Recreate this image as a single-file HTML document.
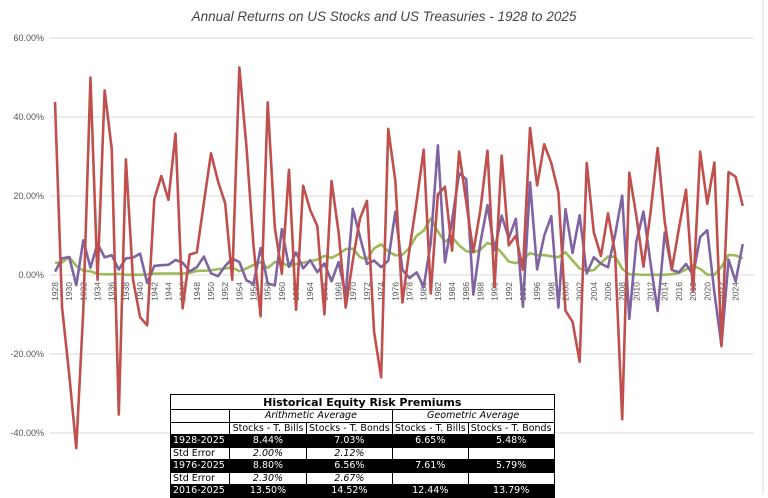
<!DOCTYPE html>
<html><head><meta charset="utf-8">
<style>
body{margin:0;background:#fff;width:768px;height:494px;overflow:hidden;font-family:"Liberation Sans",sans-serif}
#chart{position:absolute;left:0;top:0}
table{position:absolute;left:170px;top:394px;border-collapse:collapse;font-family:"DejaVu Sans","Liberation Sans",sans-serif;font-size:9.5px;table-layout:fixed;background:#fff}
td{border:1px solid #000;padding:0 2px;height:11.5px;line-height:11px;text-align:center;white-space:nowrap;overflow:hidden}
tr.blk td{background:#000;color:#fff}
td.l{text-align:left}
.i{font-style:italic}
</style></head><body>
<svg id="chart" width="768" height="494">
<text x="384" y="21" text-anchor="middle" font-size="13.5" font-style="italic" fill="#444" font-family="Liberation Sans, sans-serif">Annual Returns on US Stocks and US Treasuries - 1928 to 2025</text>
<line x1="763" y1="0" x2="763" y2="494" stroke="#ddd"/>
<g id="grid"></g><g id="xlab"></g><g id="lines"></g>
</svg>
<table>
<colgroup><col style="width:59px"><col style="width:77px"><col style="width:85px"><col style="width:76px"><col style="width:84px"></colgroup>
<tr><td colspan="5" style="font-weight:bold;font-size:11px;height:14px">Historical Equity Risk Premiums</td></tr>
<tr><td></td><td colspan="2" class="i">Arithmetic Average</td><td colspan="2" class="i">Geometric Average</td></tr>
<tr><td></td><td>Stocks - T. Bills</td><td>Stocks - T. Bonds</td><td>Stocks - T. Bills</td><td>Stocks - T. Bonds</td></tr>
<tr class="blk"><td class="l">1928-2025</td><td>8.44%</td><td>7.03%</td><td>6.65%</td><td>5.48%</td></tr>
<tr><td class="l">Std Error</td><td class="i">2.00%</td><td class="i">2.12%</td><td></td><td></td></tr>
<tr class="blk"><td class="l">1976-2025</td><td>8.80%</td><td>6.56%</td><td>7.61%</td><td>5.79%</td></tr>
<tr><td class="l">Std Error</td><td class="i">2.30%</td><td class="i">2.67%</td><td></td><td></td></tr>
<tr class="blk"><td class="l">2016-2025</td><td>13.50%</td><td>14.52%</td><td>12.44%</td><td>13.79%</td></tr>
</table>
<script>
const startYear=1928;
const stocks=[43.81,-8.30,-25.12,-43.84,-8.64,49.98,-1.19,46.74,31.94,-35.34,29.28,-1.10,-10.67,-12.77,19.17,25.06,19.03,35.82,-8.43,5.20,5.70,18.30,30.81,23.68,18.15,-1.21,52.56,32.60,7.44,-10.46,43.72,12.06,0.34,26.64,-8.81,22.61,16.42,12.40,-9.97,23.80,10.81,-8.24,3.56,14.22,18.76,-14.31,-25.90,37.00,23.83,-6.98,6.51,18.52,31.74,-4.70,20.42,22.34,6.15,31.24,18.49,5.81,16.54,31.48,-3.06,30.23,7.49,9.97,1.33,37.20,22.68,33.10,28.34,20.89,-9.03,-11.85,-21.97,28.36,10.74,4.83,15.61,5.48,-36.55,25.94,14.82,2.10,15.89,32.15,13.52,1.38,11.77,21.61,-4.23,31.21,18.02,28.47,-18.01,26.06,24.88,17.5];
const tbills=[3.08,3.16,4.55,2.31,1.07,0.96,0.28,0.17,0.17,0.28,0.07,0.05,0.04,0.13,0.34,0.38,0.38,0.38,0.38,0.57,1.02,1.10,1.17,1.48,1.67,1.89,0.96,1.66,2.56,3.23,1.78,3.26,3.05,2.27,2.78,3.11,3.51,3.90,4.84,4.33,5.26,6.56,6.69,4.54,3.95,6.73,7.78,5.99,4.97,5.13,6.93,9.94,11.22,14.30,11.01,8.45,9.61,7.49,6.04,5.72,6.45,8.11,7.55,5.61,3.41,2.98,3.99,5.52,5.02,5.05,4.73,4.51,5.76,3.67,1.66,1.03,1.23,3.01,4.68,4.64,1.59,0.14,0.13,0.03,0.05,0.07,0.05,0.21,0.51,1.39,2.37,1.55,0.09,0.06,2.02,5.07,4.97,4.2];
const tbonds=[0.84,4.20,4.54,-2.56,8.79,1.86,7.96,4.47,5.02,1.38,4.21,4.41,5.40,-2.02,2.29,2.49,2.58,3.80,3.13,0.92,1.95,4.66,0.43,-0.30,2.27,4.14,3.29,-1.34,-2.26,6.80,-2.10,-2.65,11.64,2.06,5.69,1.68,3.73,0.72,2.91,-1.58,3.27,-5.01,16.75,9.79,2.82,3.66,1.99,3.61,15.98,1.29,-0.78,0.67,-2.99,8.20,32.81,3.20,13.73,25.71,24.28,-4.96,8.22,17.69,6.24,15.00,9.36,14.21,-8.04,23.48,1.43,9.94,14.92,-8.25,16.66,5.57,15.12,0.38,4.49,2.87,1.96,10.21,20.10,-11.12,8.46,16.04,2.97,-9.10,10.75,1.28,0.69,2.80,-0.02,9.64,11.33,-4.42,-17.83,3.88,-1.64,7.8];
const yTicks=[60,40,20,0,-20,-40];
const NS='http://www.w3.org/2000/svg';
const x=i=>55+i*7.09;
const y=v=>275-v*3.95;
function mk(t,a,p){const e=document.createElementNS(NS,t);for(const k in a)e.setAttribute(k,a[k]);p.appendChild(e);return e;}
const grid=document.getElementById('grid');
yTicks.forEach(v=>{
  const l=mk('line',{x1:50,x2:754,y1:y(v),y2:y(v),stroke:'#d9d9d9','stroke-width':1},grid);
  
  
  const t=mk('text',{x:44,y:y(v)+3,'text-anchor':'end','font-size':9,fill:'#555'},grid);
  t.textContent=v.toFixed(2)+'%';
  
  
});
const xl=document.getElementById('xlab');
for(let i=0;i<stocks.length;i+=2){
  const t=mk('text',{transform:`translate(${x(i)+3},${282}) rotate(-90)`,'text-anchor':'end','font-size':8.5,fill:'#555'},xl);
  t.textContent=startYear+i;
  
  
}
const lg=document.getElementById('lines');
[[tbills,'#9bbb59','tbill-line'],[tbonds,'#8064a2','tbond-line'],[stocks,'#c0504d','stock-line']].forEach(([d,c,n])=>{
  const p=mk('polyline',{points:d.map((v,i)=>x(i)+','+y(v)).join(' '),fill:'none',stroke:c,'stroke-width':2.6,'stroke-linejoin':'round'},lg);
  
  
});
</script>
</body></html>
